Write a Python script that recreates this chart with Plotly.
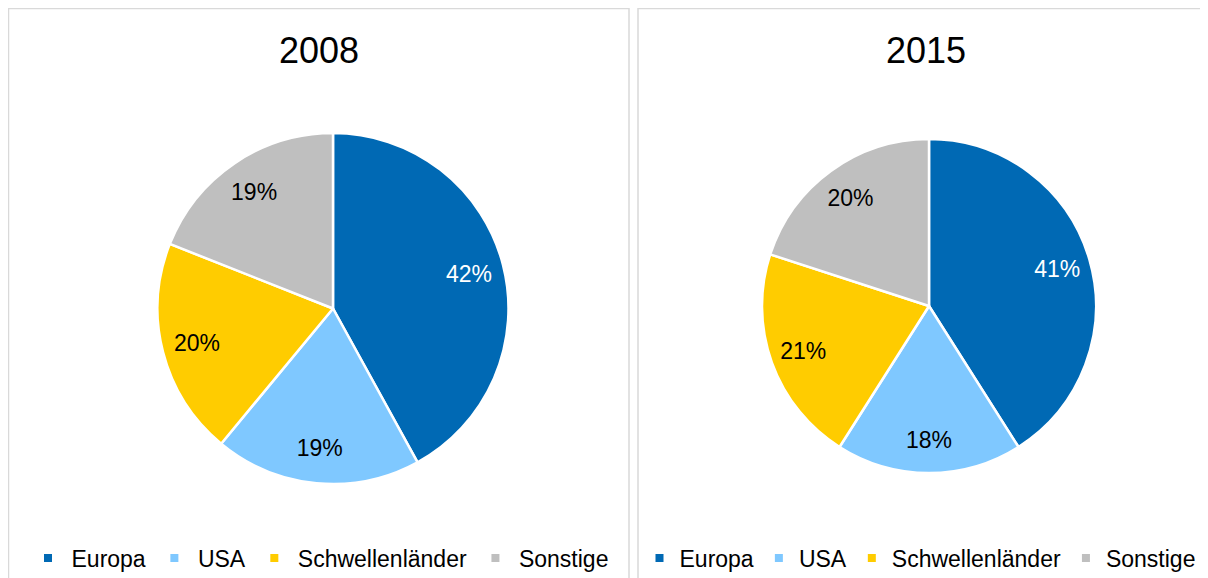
import plotly.graph_objects as go

# ---------------------------------------------------------------------------
# Data
# ---------------------------------------------------------------------------
regions = ["Europa", "USA", "Schwellenländer", "Sonstige"]
share_2008 = [42, 19, 20, 19]
share_2015 = [41, 18, 21, 20]
years = ["2008", "2015"]

colors = ["#0069B4", "#7FC8FF", "#FFCC00", "#BFBFBF"]
label_colors = ["#FFFFFF", "#000000", "#000000", "#000000"]

# the page body adds an 8px margin, so layout positions are screen px minus 8
OFF = 8
W, H = 1208, 578
FONT = "Liberation Sans, Arial, sans-serif"
BORDER = "#D9D9D9"


def px_x(v):
    return (v - OFF) / W


def px_y(v):
    return 1 - (v - OFF) / H


fig = go.Figure()

panels = [
    {"values": share_2008, "pie": (157.5, 508.5, 133, 484), "panel": (8.5, 629), "title_x": 318.5,
     "leg_x": 319, "legend": "legend", "itemwidth": 37},
    {"values": share_2015, "pie": (762, 1096, 139, 473), "panel": (638, 1240), "title_x": 926,
     "leg_x": 920, "legend": "legend2", "itemwidth": 30},
]

for year, p in zip(years, panels):
    x0, x1, y0, y1 = p["pie"]
    domain = {"x": [px_x(x0), px_x(x1)], "y": [px_y(y1), px_y(y0)]}

    # slices
    fig.add_trace(
        go.Pie(
            labels=regions,
            values=p["values"],
            sort=False,
            direction="clockwise",
            rotation=0,
            marker={"colors": colors, "line": {"color": "#FFFFFF", "width": 2.5}},
            textinfo="none",
            domain=domain,
            showlegend=False,
            hoverinfo="label+percent",
        )
    )
    # percentage labels: transparent ring so text sits out toward the rim
    fig.add_trace(
        go.Pie(
            labels=regions,
            values=p["values"],
            sort=False,
            direction="clockwise",
            rotation=0,
            hole=0.6,
            marker={"colors": ["rgba(0,0,0,0)"] * len(regions), "line": {"width": 0}},
            textinfo="percent",
            textposition="inside",
            insidetextorientation="horizontal",
            insidetextfont={"color": label_colors, "size": 23, "family": FONT},
            domain=domain,
            showlegend=False,
            hoverinfo="skip",
        )
    )

    # legend entries (small squares)
    for name, col in zip(regions, colors):
        fig.add_trace(
            go.Scatter(
                x=[None], y=[None],
                mode="markers",
                name=name,
                marker={"symbol": "square", "size": 8, "color": col},
                legend=p["legend"],
                showlegend=True,
                hoverinfo="skip",
            )
        )

    # panel frame (runs off the bottom / right edge like the original)
    px0, px1 = p["panel"]
    fig.add_shape(
        type="rect",
        xref="paper", yref="paper",
        x0=px_x(px0), x1=px_x(px1), y0=-0.2, y1=px_y(8.5),
        line={"color": BORDER, "width": 1.5},
        fillcolor="rgba(0,0,0,0)",
        layer="below",
    )

    # year title
    fig.add_annotation(
        text=year,
        x=px_x(p["title_x"]),
        y=px_y(50),
        xref="paper", yref="paper",
        xanchor="center", yanchor="middle",
        showarrow=False,
        font={"size": 36, "color": "#000000", "family": FONT},
    )

legend_common = {
    "orientation": "h",
    "xref": "container",
    "yref": "container",
    "xanchor": "center",
    "yanchor": "middle",
    "y": px_y(558),
    "font": {"size": 23, "color": "#000000", "family": FONT},
    "bgcolor": "rgba(0,0,0,0)",
    "traceorder": "normal",
}

fig.update_layout(
    width=W,
    height=H,
    margin={"l": 0, "r": 0, "t": 0, "b": 0, "autoexpand": False},
    paper_bgcolor="#FFFFFF",
    plot_bgcolor="#FFFFFF",
    font={"family": FONT},
    showlegend=True,
    xaxis={"visible": False},
    yaxis={"visible": False},
    legend={**legend_common, "x": px_x(panels[0]["leg_x"]), "itemwidth": panels[0]["itemwidth"]},
    legend2={**legend_common, "x": px_x(panels[1]["leg_x"]), "itemwidth": panels[1]["itemwidth"]},
)

fig.write_html("out.html")
